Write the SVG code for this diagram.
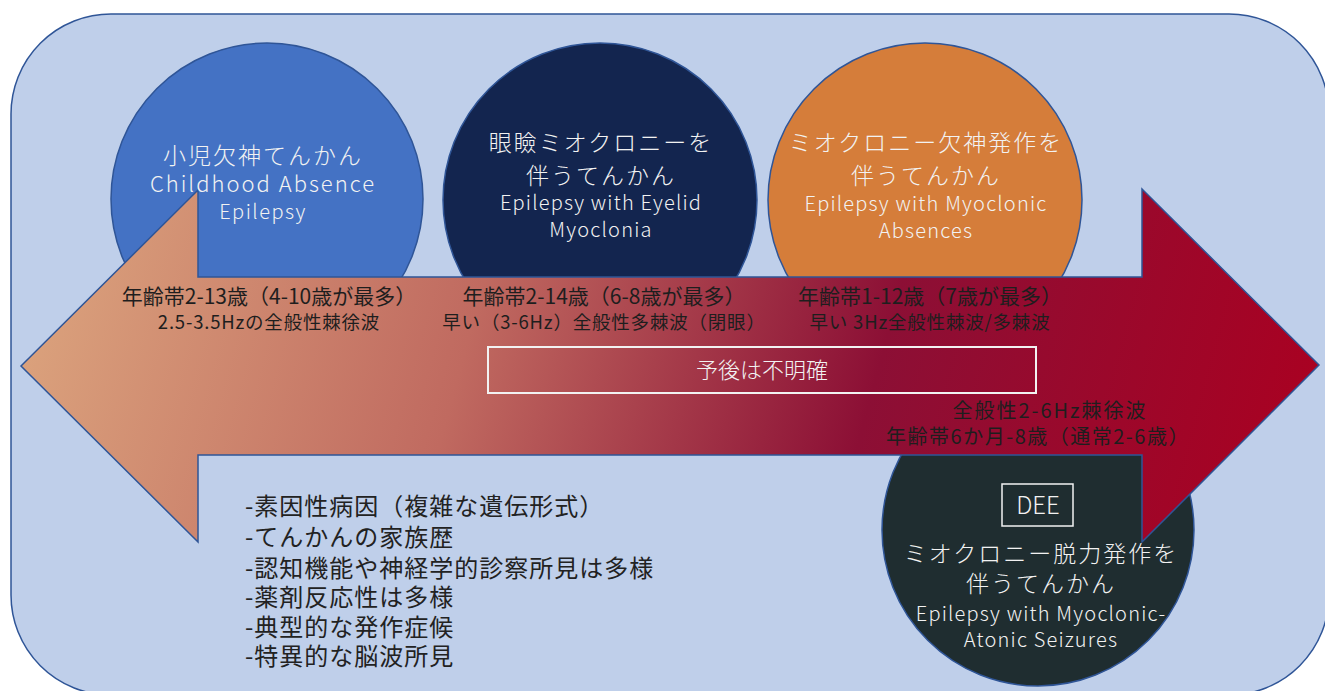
<svg xmlns="http://www.w3.org/2000/svg" width="1325" height="691" viewBox="0 0 1325 691">
<defs>
<linearGradient id="arrowGrad" gradientUnits="userSpaceOnUse" x1="21" y1="190" x2="1319" y2="542">
<stop offset="0" stop-color="#DDA77F"/>
<stop offset="0.35" stop-color="#C06A60"/>
<stop offset="0.65" stop-color="#8C0F35"/>
<stop offset="1" stop-color="#AC0020"/>
</linearGradient>
<style>
.jp{font-family:"Noto Sans CJK JP","Noto Sans",sans-serif;}
.ct{fill:#F2F2F2;text-anchor:middle;font-weight:300;}
.cj{font-size:23px;letter-spacing:2px;}
.ce{font-size:20px;letter-spacing:1.2px;}
.at{fill:#1E1E1E;text-anchor:middle;}
.a1{font-size:21px;}
.a2{font-size:18.5px;letter-spacing:0.8px;}
.li{fill:#222;font-size:24px;letter-spacing:1px;}
.circ{stroke:#2F5597;stroke-width:1.5;}
</style>
</defs>
<rect x="11" y="14" width="1318" height="681" rx="100" ry="100" fill="#BFCFEA" stroke="#2F5597" stroke-width="1.5"/>
<g id="node-cae">
<circle class="circ" cx="267" cy="199" r="156" fill="#4472C4"/>
</g>
<g id="node-eem">
<circle class="circ" cx="600" cy="200" r="157" fill="#13254F"/>
</g>
<g id="node-ema">
<circle class="circ" cx="925" cy="200" r="157" fill="#D57D3A"/>
</g>
<g id="node-emas">
<circle class="circ" cx="1038" cy="530" r="156" fill="#1F2D30"/>
</g>
<g id="connectors">
<polygon points="21,366 198,190 198,277 1142,277 1142,189 1319,365 1142,542 1142,455 198,455 198,542" fill="url(#arrowGrad)" stroke="#2F5597" stroke-width="1.5"/>
</g>
<g id="labels-cae" class="jp">
<text class="ct cj" x="263" y="164">小児欠神てんかん</text>
<text class="ct" x="263" y="192" font-size="22" letter-spacing="2">Childhood Absence</text>
<text class="ct" x="263" y="219" font-size="20" letter-spacing="1.5">Epilepsy</text>
</g>
<g id="labels-eem" class="jp">
<text class="ct cj" x="601" y="151">眼瞼ミオクロニーを</text>
<text class="ct cj" x="601" y="184">伴うてんかん</text>
<text class="ct ce" x="601" y="210">Epilepsy with Eyelid</text>
<text class="ct ce" x="601" y="237">Myoclonia</text>
</g>
<g id="labels-ema" class="jp">
<text class="ct cj" x="926" y="151">ミオクロニー欠神発作を</text>
<text class="ct cj" x="926" y="184">伴うてんかん</text>
<text class="ct ce" x="926" y="211">Epilepsy with Myoclonic</text>
<text class="ct ce" x="926" y="238">Absences</text>
</g>
<g id="labels-emas" class="jp">
<rect x="1002" y="484" width="71" height="42" fill="none" stroke="#F2F2F2" stroke-width="1.5"/>
<text class="ct" x="1038" y="514" font-size="24">DEE</text>
<text class="ct cj" x="1041" y="562">ミオクロニー脱力発作を</text>
<text class="ct cj" x="1041" y="592">伴うてんかん</text>
<text class="ct ce" x="1041" y="621">Epilepsy with Myoclonic-</text>
<text class="ct ce" x="1041" y="647">Atonic Seizures</text>
</g>
<g id="arrow-texts" class="jp">
<text class="at a1" x="269" y="304">年齢帯2-13歳（4-10歳が最多）</text>
<text class="at a2" x="269" y="329">2.5-3.5Hzの全般性棘徐波</text>
<text class="at a1" x="604" y="304">年齢帯2-14歳（6-8歳が最多）</text>
<text class="at a2" x="604" y="329">早い（3-6Hz）全般性多棘波（閉眼）</text>
<text class="at a1" x="930" y="304">年齢帯1-12歳（7歳が最多）</text>
<text class="at a2" x="930" y="329">早い 3Hz全般性棘波/多棘波</text>
<text class="at" x="1050" y="418" font-size="20" letter-spacing="2">全般性2-6Hz棘徐波</text>
<text class="at" x="1038" y="444" font-size="20" letter-spacing="1.5">年齢帯6か月-8歳（通常2-6歳）</text>
</g>
<g id="prognosis">
<rect x="488" y="347" width="548" height="46" fill="none" stroke="#F2F2F2" stroke-width="2"/>
<text class="jp" x="762" y="378" font-size="22" fill="#F2F2F2" text-anchor="middle" font-weight="300">予後は不明確</text>
</g>
<g id="features" class="jp">
<text class="li" x="245" y="515">-素因性病因（複雑な遺伝形式）</text>
<text class="li" x="245" y="546">-てんかんの家族歴</text>
<text class="li" x="245" y="577">-認知機能や神経学的診察所見は多様</text>
<text class="li" x="245" y="606">-薬剤反応性は多様</text>
<text class="li" x="245" y="636">-典型的な発作症候</text>
<text class="li" x="245" y="665">-特異的な脳波所見</text>
</g>
</svg>
